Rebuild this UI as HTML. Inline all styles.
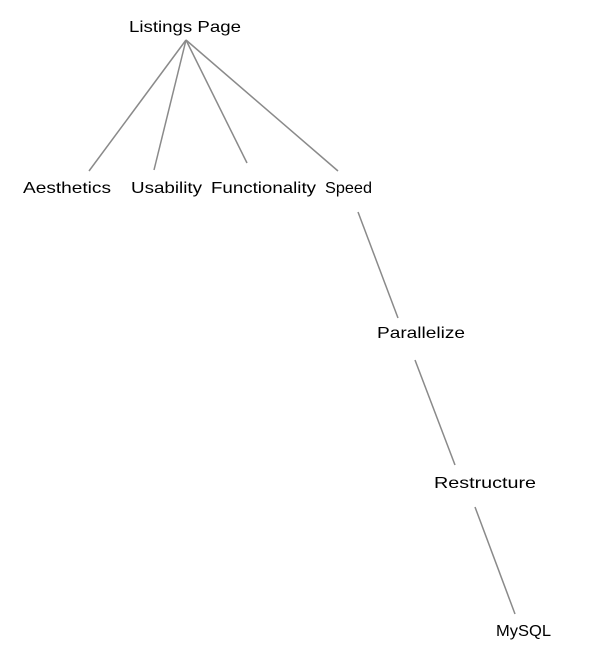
<!DOCTYPE html>
<html><head><meta charset="utf-8"><style>
html,body{margin:0;padding:0;background:#fff;width:600px;height:665px;overflow:hidden}
text{font-family:"Liberation Sans",sans-serif;font-size:16px;fill:#000}
</style></head><body>
<svg width="600" height="665" viewBox="0 0 600 665" xmlns="http://www.w3.org/2000/svg">
<g stroke="#8a8a8a" stroke-width="1.5" fill="none">
<line x1="186" y1="40" x2="89" y2="171"/>
<line x1="186" y1="40" x2="154" y2="170"/>
<line x1="186" y1="40" x2="247" y2="163"/>
<line x1="186" y1="40" x2="338" y2="171"/>
<line x1="358" y1="212" x2="398" y2="318"/>
<line x1="415" y1="360" x2="455" y2="465"/>
<line x1="475" y1="507" x2="515" y2="614"/>
</g>
<text x="129" y="32" textLength="112" lengthAdjust="spacingAndGlyphs">Listings Page</text>
<text x="23" y="193" textLength="88" lengthAdjust="spacingAndGlyphs">Aesthetics</text>
<text x="131" y="193" textLength="71" lengthAdjust="spacingAndGlyphs">Usability</text>
<text x="211" y="193" textLength="105" lengthAdjust="spacingAndGlyphs">Functionality</text>
<text x="325" y="193" textLength="47" lengthAdjust="spacingAndGlyphs">Speed</text>
<text x="377" y="338" textLength="88" lengthAdjust="spacingAndGlyphs">Parallelize</text>
<text x="434" y="488" textLength="102" lengthAdjust="spacingAndGlyphs">Restructure</text>
<text x="496" y="636" textLength="55" lengthAdjust="spacingAndGlyphs">MySQL</text>
</svg>
</body></html>
